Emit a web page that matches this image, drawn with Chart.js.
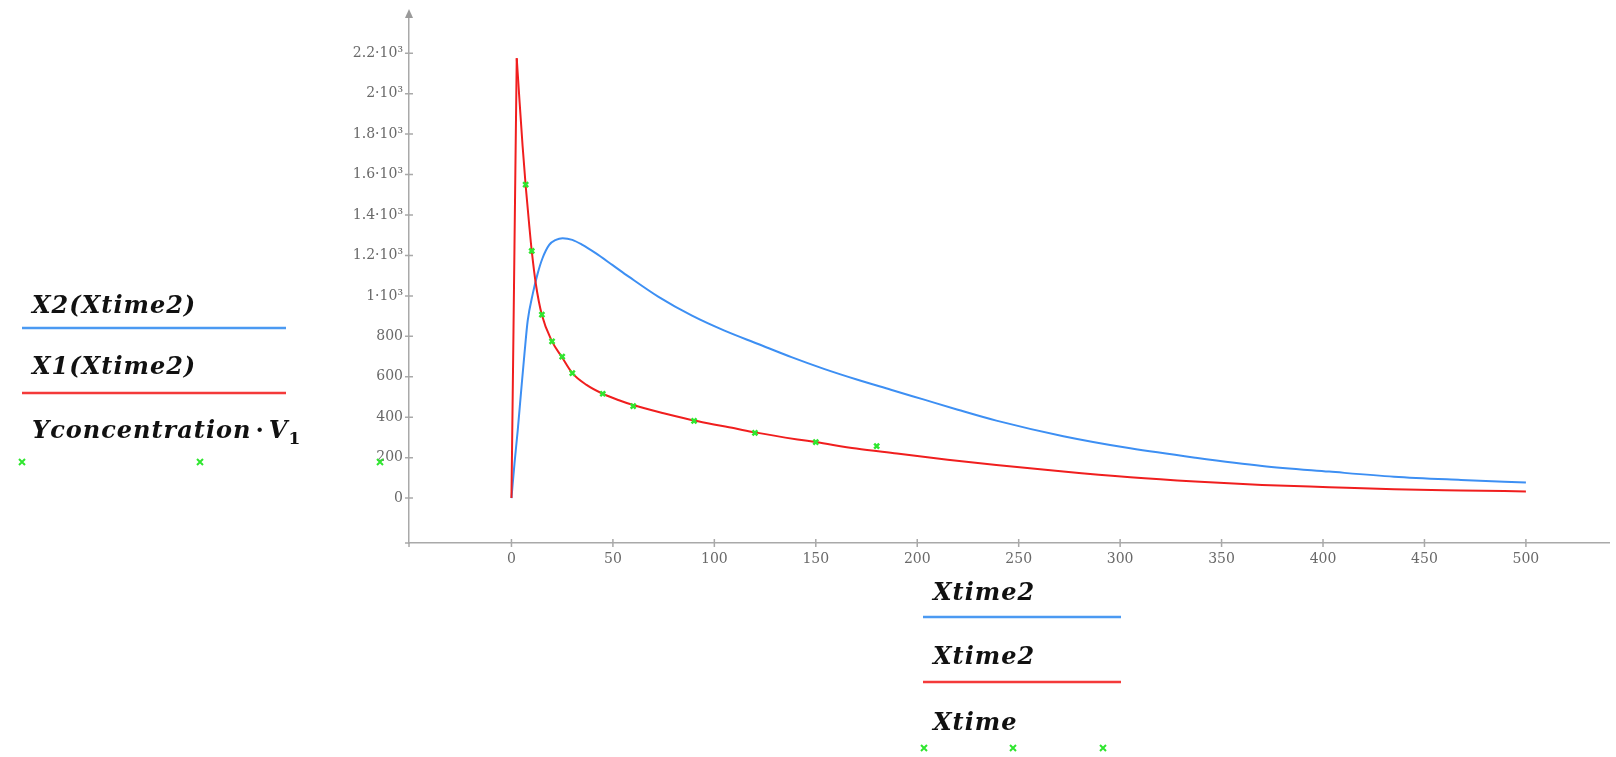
<!DOCTYPE html>
<html>
<head>
<meta charset="utf-8">
<script src="https://cdn.jsdelivr.net/npm/chart.js@4.4.1/dist/chart.umd.min.js"></script>
<style>
html,body{margin:0;padding:0;background:#fff;overflow:hidden}
#wrap{position:relative;width:1616px;height:757px}
#plot{position:absolute;left:0;top:0}
#lgd{position:absolute;left:0;top:0;pointer-events:none}
#lgd text{font-family:"DejaVu Serif",serif;font-style:italic;font-weight:bold;font-size:24px;letter-spacing:1px;fill:#111}
</style>
</head>
<body>
<div id="wrap">
<canvas id="plot" width="1616" height="757"></canvas>
<svg id="lgd" width="1616" height="757">
  <!-- left legend (traces) -->
  <text x="32" y="313">X2(Xtime2)</text>
  <line x1="22" y1="328" x2="286" y2="328" stroke="#4b9af2" stroke-width="2.5"/>
  <text x="32" y="374">X1(Xtime2)</text>
  <line x1="22" y1="393" x2="286" y2="393" stroke="#f43a3a" stroke-width="2.5"/>
  <text x="32" y="438">Yconcentration<tspan font-style="normal" dx="4">·</tspan><tspan dx="4">V</tspan><tspan font-style="normal" font-size="17" dy="6">1</tspan></text>
  <g id="lm1"></g>
  <!-- bottom legend (x vars) -->
  <text x="933" y="600">Xtime2</text>
  <line x1="923" y1="617" x2="1121" y2="617" stroke="#4b9af2" stroke-width="2.5"/>
  <text x="933" y="664">Xtime2</text>
  <line x1="923" y1="682" x2="1121" y2="682" stroke="#f43a3a" stroke-width="2.5"/>
  <text x="933" y="730">Xtime</text>
</svg>
</div>
<script>
// ---- data ----
const x1Time=[0,1,2,2.6,4,5.5,7,8.8,10,12,15,20,25,30,37,45,53,60,75,92,110,120,141,150,170,190,215,239,272,305,337,370,403,435,468,500];
const x1Vals=[0,830,1680,2175,1960,1740,1545,1345,1222,1060,905,775,695,618,560,516,484,460,420,380,345,325,290,277,245,221,190,164,131,103,82,65,54,44,38,33];

const x2Time=[0,1.5,3.1,4.8,6.4,8,10.5,12.9,15.3,18.6,21.9,25.2,30,35,41.5,49.7,57.8,72.5,89,105,121.6,138,154,170.6,187,203,220,239,272,305,337,370,403,435,468,500];
const x2Vals=[0,172,336,533,713,877,1010,1110,1186,1252,1277,1285,1277,1252,1211,1153,1095,995,902,828,762,697,639,585,536,488,437,383,306,246,200,159,131,106,90,77];

const xTime=[7,10,15,20,25,30,45,60,90,120,150,180];
const yConcV1=[1550,1222,907,775,700,618,516,455,382,323,277,257];

const xTicks=[0,50,100,150,200,250,300,350,400,450,500];
const yTicks=[0,200,400,600,800,1000,1200,1400,1600,1800,2000,2200];
const yTickLabels=['0','200','400','600','800','1·10³','1.2·10³','1.4·10³','1.6·10³','1.8·10³','2·10³','2.2·10³'];

const BLUE='#3d8ff3', RED='#f01e1e', GREEN='#2fe62f', AXIS='#a9a9a9';

// legend markers (small green crosses)
function cross(x,y){return `<path d="M${x-3} ${y-3}L${x+3} ${y+3}M${x+3} ${y-3}L${x-3} ${y+3}" stroke="${GREEN}" stroke-width="2"/>`;}
document.getElementById('lm1').innerHTML=[[22,462],[200,462],[380,462],[924,748],[1013,748],[1103,748]].map(p=>cross(p[0],p[1])).join('');

// crossing tick marks + arrow on the y axis
const axisMarks={id:'axisMarks',afterDraw(c){
  const {ctx,chartArea:a,scales:{x,y}}=c;
  ctx.save();ctx.strokeStyle=AXIS;ctx.lineWidth=1.5;
  ctx.beginPath();
  xTicks.forEach(v=>{const p=x.getPixelForValue(v);ctx.moveTo(p,a.bottom-4);ctx.lineTo(p,a.bottom+4);});
  yTicks.forEach(v=>{const p=y.getPixelForValue(v);ctx.moveTo(a.left-4,p);ctx.lineTo(a.left+4,p);});
  ctx.moveTo(a.left-4,a.bottom);ctx.lineTo(a.left,a.bottom);
  ctx.moveTo(a.left,a.bottom);ctx.lineTo(a.left,a.bottom+4);
  ctx.stroke();
  ctx.fillStyle='#9a9a9a';ctx.beginPath();
  ctx.moveTo(a.left,a.top-8);ctx.lineTo(a.left-4,a.top+1);ctx.lineTo(a.left+4,a.top+1);ctx.closePath();ctx.fill();
  ctx.restore();
}};

const pts=(xs,ys)=>xs.map((v,i)=>({x:v,y:ys[i]}));
// X1 has a sharp spike: rising and falling parts are drawn as two pieces so the tip stays pointed
const pk=x1Vals.indexOf(Math.max(...x1Vals));
const x1Rise=pts(x1Time.slice(0,pk+1),x1Vals.slice(0,pk+1));
const x1Fall=pts(x1Time.slice(pk),x1Vals.slice(pk));
const tickFont={family:'DejaVu Serif',size:14};

new Chart(document.getElementById('plot').getContext('2d'),{
  type:'line',
  data:{datasets:[
    {type:'scatter',label:'Yconcentration·V1',data:pts(xTime,yConcV1),pointStyle:'crossRot',pointRadius:3.5,borderColor:GREEN,backgroundColor:GREEN,pointBorderWidth:2.5,order:0},
    {label:'X1(Xtime2)',data:x1Rise,borderColor:RED,borderWidth:2,pointRadius:0,cubicInterpolationMode:'monotone',order:1},
    {label:'X1(Xtime2)',data:x1Fall,borderColor:RED,borderWidth:2,pointRadius:0,cubicInterpolationMode:'monotone',order:1},
    {label:'X2(Xtime2)',data:pts(x2Time,x2Vals),borderColor:BLUE,borderWidth:2,pointRadius:0,cubicInterpolationMode:'monotone',order:2},
  ]},
  options:{responsive:false,animation:false,
    layout:{padding:{top:17,left:0,right:0,bottom:0}},
    plugins:{legend:{display:false},tooltip:{enabled:false}},
    scales:{
      x:{type:'linear',min:-50.5,max:541.2,
        afterBuildTicks:s=>{s.ticks=xTicks.map(v=>({value:v}));},
        afterFit:s=>{s.height=214;},
        grid:{display:false,drawTicks:false},border:{display:true,color:AXIS,width:1.5},
        ticks:{color:'#696969',font:tickFont,padding:8,maxRotation:0,autoSkip:false,callback:v=>String(v)}},
      y:{type:'linear',min:-222,max:2379,
        afterBuildTicks:s=>{s.ticks=yTicks.map(v=>({value:v}));},
        afterFit:s=>{s.width=409;},
        grid:{display:false,drawTicks:false},border:{display:true,color:AXIS,width:1.5},
        ticks:{color:'#696969',font:tickFont,padding:6,autoSkip:false,callback:v=>yTickLabels[yTicks.indexOf(v)]}}
    }
  },
  plugins:[axisMarks]
});
</script>
</body>
</html>
